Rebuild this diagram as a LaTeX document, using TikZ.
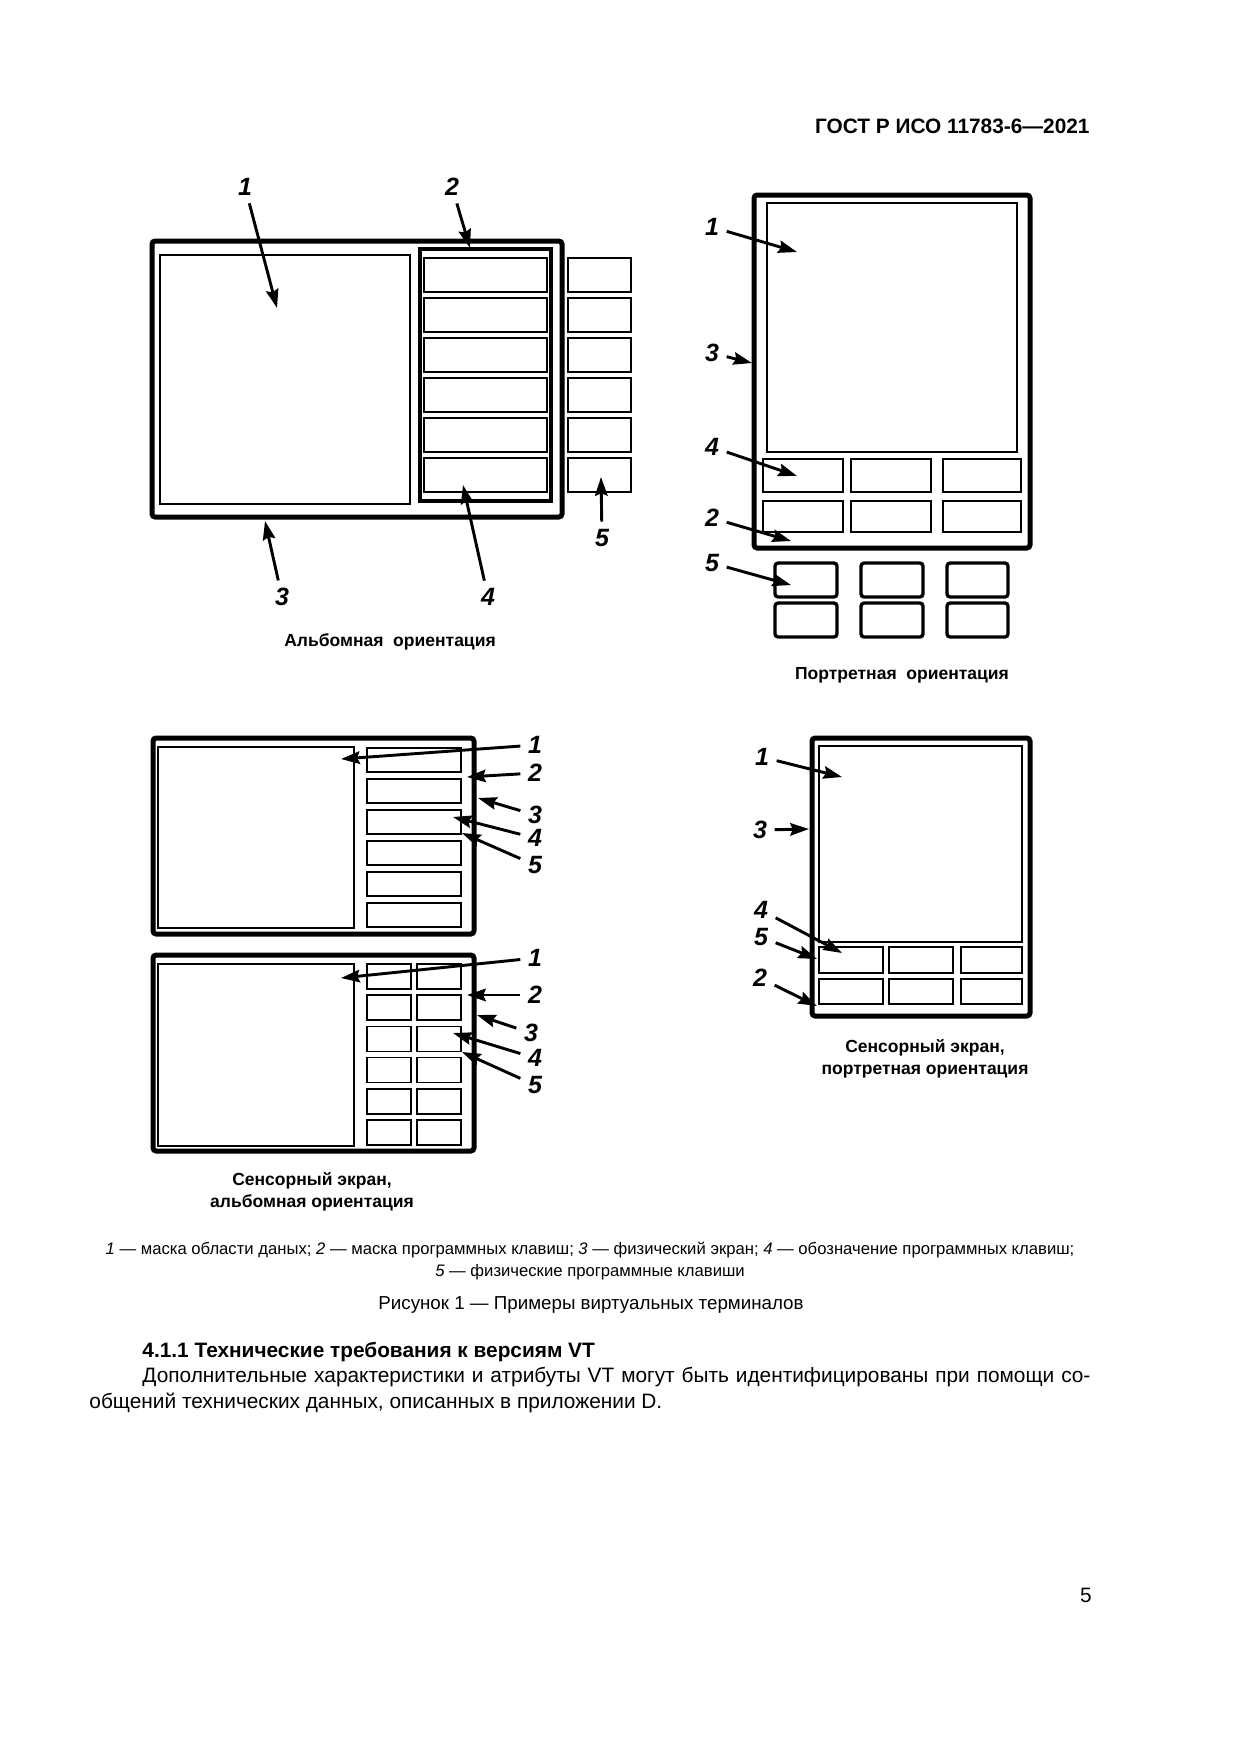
\documentclass[tikz,border=0pt]{standalone}
\usepackage{fontspec}
\setmainfont{Liberation Sans}
\usetikzlibrary{arrows.meta}
\begin{document}
\begin{tikzpicture}[x=0.48pt,y=-0.48pt,
  frame/.style={line width=2.4pt, rounded corners=1.5pt},
  thinbox/.style={line width=0.7pt},
  midbox/.style={line width=1.3pt},
  pkey/.style={line width=1.6pt, rounded corners=1.5pt},
  num/.style={font=\fontsize{12}{12}\selectfont\bfseries\itshape, inner sep=3.5pt},
  ptr/.style={line width=1.4pt, -{Stealth[length=9pt,width=6pt,inset=1.2pt]}},
  figcap/.style={font=\fontsize{8.4}{10.6}\selectfont\bfseries, align=center, inner sep=0pt},
  bodytext/.style={font=\fontsize{10}{12.5}\selectfont, inner sep=0pt},
  legend/.style={font=\fontsize{8}{10}\selectfont, inner sep=0pt}
]
\fill[white] (0,0) rectangle (1240,1754);
\useasboundingbox (0,0) rectangle (1240,1754);

% header
\node[font=\fontsize{10}{12}\selectfont\bfseries, anchor=east, inner sep=0pt] (hdr) at (1090,126) {ГОСТ Р ИСО 11783-6—2021};

% ---------------- Landscape ----------------
\draw[frame] (152,241) rectangle (562,517);
\draw[line width=1pt] (160,255) rectangle (410,504);
\draw[line width=1.9pt] (420,249) rectangle (551,501);
\foreach \y in {258,298,338,378,418,458}{
  \draw[midbox] (424,\y) rectangle (547,\y+34);
  \draw[midbox] (568,\y) rectangle (631,\y+34);
}
\node[num] (L1) at (245,187) {1};
\node[num] (L2) at (452,187) {2};
\node[num] (L3) at (282,597) {3};
\node[num] (L4) at (488,597) {4};
\node[num] (L5) at (602,538) {5};
\coordinate (Lt1) at (277,308);
\coordinate (Lt2) at (470,248);
\coordinate (Lt3) at (265,521);
\coordinate (Lt4) at (463,485);
\coordinate (Lt5) at (601,477);
\draw[ptr] (L1) -- (Lt1);
\draw[ptr] (L2) -- (Lt2);
\draw[ptr] (L3) -- (Lt3);
\draw[ptr] (L4) -- (Lt4);
\draw[ptr] (L5) -- (Lt5);
\node[figcap] (Lcap) at (390,642) {Альбомная\ \ ориентация};

% ---------------- Portrait ----------------
\draw[frame] (754,195) rectangle (1030,548);
\draw[thinbox] (767,203) rectangle (1017,452);
\foreach \a/\b in {763/843,851/931,943/1021}{
  \draw[thinbox] (\a,459) rectangle (\b,492);
  \draw[thinbox] (\a,501) rectangle (\b,532);
}
\foreach \a/\b in {775/837,861/923,947/1008}{
  \draw[pkey] (\a,563) rectangle (\b,597);
  \draw[pkey] (\a,603) rectangle (\b,637);
}
\node[num] (P1) at (712,227) {1};
\node[num] (P3) at (712,353) {3};
\node[num] (P4) at (712,447) {4};
\node[num] (P2) at (712,518) {2};
\node[num] (P5) at (712,563) {5};
\coordinate (Pt1) at (797,252);
\coordinate (Pt3) at (752,363);
\coordinate (Pt4) at (797,476);
\coordinate (Pt2) at (791,541);
\coordinate (Pt5) at (791,585);
\draw[ptr] (P1) -- (Pt1);
\draw[ptr] (P3) -- (Pt3);
\draw[ptr] (P4) -- (Pt4);
\draw[ptr] (P2) -- (Pt2);
\draw[ptr] (P5) -- (Pt5);
\node[figcap] (Pcap) at (902,675) {Портретная\ \ ориентация};

% ---------------- Touch landscape A ----------------
\draw[frame] (153,738) rectangle (474,934);
\draw[thinbox] (158,747) rectangle (354,928);
\foreach \i in {0,...,5}{
  \draw[thinbox] (367,748+31*\i) rectangle (461,772+31*\i);
}
\node[num] (A1) at (535,745) {1};
\node[num] (A2) at (535,773) {2};
\node[num] (A3) at (535,815) {3};
\node[num] (A4) at (535,838) {4};
\node[num] (A5) at (535,865) {5};
\coordinate (At1) at (341,759);
\coordinate (At2) at (467,777);
\coordinate (At3) at (478,798);
\coordinate (At4) at (453,817);
\coordinate (At5) at (462,833);
\draw[ptr] (A1) -- (At1);
\draw[ptr] (A2) -- (At2);
\draw[ptr] (A3) -- (At3);
\draw[ptr] (A4) -- (At4);
\draw[ptr] (A5) -- (At5);

% ---------------- Touch landscape B ----------------
\draw[frame] (153,955) rectangle (474,1151);
\draw[thinbox] (158,964) rectangle (354,1146);
\foreach \i in {0,...,5}{
  \draw[thinbox] (367,964+31.2*\i) rectangle (411,989+31.2*\i);
  \draw[thinbox] (417,964+31.2*\i) rectangle (461,989+31.2*\i);
}
\node[num] (B1) at (535,958) {1};
\node[num] (B2) at (535,995) {2};
\node[num] (B3) at (531,1033) {3};
\node[num] (B4) at (535,1058) {4};
\node[num] (B5) at (535,1085) {5};
\coordinate (Bt1) at (341,978);
\coordinate (Bt2) at (467,995);
\coordinate (Bt3) at (477,1015);
\coordinate (Bt4) at (453,1033);
\coordinate (Bt5) at (462,1052);
\draw[ptr] (B1) -- (Bt1);
\draw[ptr] (B2) -- (Bt2);
\draw[ptr] (B3) -- (Bt3);
\draw[ptr] (B4) -- (Bt4);
\draw[ptr] (B5) -- (Bt5);
\node[figcap] (Bcap) at (312,1192) {Сенсорный экран,\\альбомная ориентация};

% ---------------- Touch portrait ----------------
\draw[frame] (812,738) rectangle (1030,1016);
\draw[thinbox] (819,746) rectangle (1022,942);
\foreach \a/\b in {819/883,889/953,961/1022}{
  \draw[thinbox] (\a,947) rectangle (\b,973);
  \draw[thinbox] (\a,979) rectangle (\b,1004);
}
\node[num] (T1) at (762,757) {1};
\node[num] (T3) at (760,830) {3};
\node[num] (T4) at (761,910) {4};
\node[num] (T5) at (761,937) {5};
\node[num] (T2) at (760,978) {2};
\coordinate (Tt1) at (842,777);
\coordinate (Tt3) at (809,829);
\coordinate (Tt4) at (842,953);
\coordinate (Tt5) at (817,959);
\coordinate (Tt2) at (817,1006);
\draw[ptr] (T1) -- (Tt1);
\draw[ptr] (T3) -- (Tt3);
\draw[ptr] (T4) -- (Tt4);
\draw[ptr] (T5) -- (Tt5);
\draw[ptr] (T2) -- (Tt2);
\node[figcap] (Tcap) at (925,1059) {Сенсорный экран,\\портретная ориентация};

% ---------------- Legend and text ----------------
\node[legend] (leg1) at (590,1250) {\textit{1} — маска области даных; \textit{2} — маска программных клавиш; \textit{3} — физический экран; \textit{4} — обозначение программных клавиш;};
\node[legend] (leg2) at (590,1272) {\textit{5} — физические программные клавиши};
\node[font=\fontsize{9}{12}\selectfont, inner sep=0pt] (fig) at (591,1305) {Рисунок 1 — Примеры виртуальных терминалов};
\node[bodytext, font=\fontsize{10}{12.5}\selectfont\bfseries, anchor=west] (head) at (142,1352) {4.1.1 Технические требования к версиям VT};
\node[bodytext, anchor=west] (body1) at (142,1377) {\makebox[455pt][s]{Дополнительные характеристики и атрибуты VT могут быть идентифицированы при помощи со-}};
\node[bodytext, anchor=west] (body2) at (89,1403) {общений технических данных, описанных в приложении D.};
\node[bodytext, font=\fontsize{10}{12}\selectfont, anchor=east] (pg) at (1092,1595) {5};
\end{tikzpicture}
\end{document}
